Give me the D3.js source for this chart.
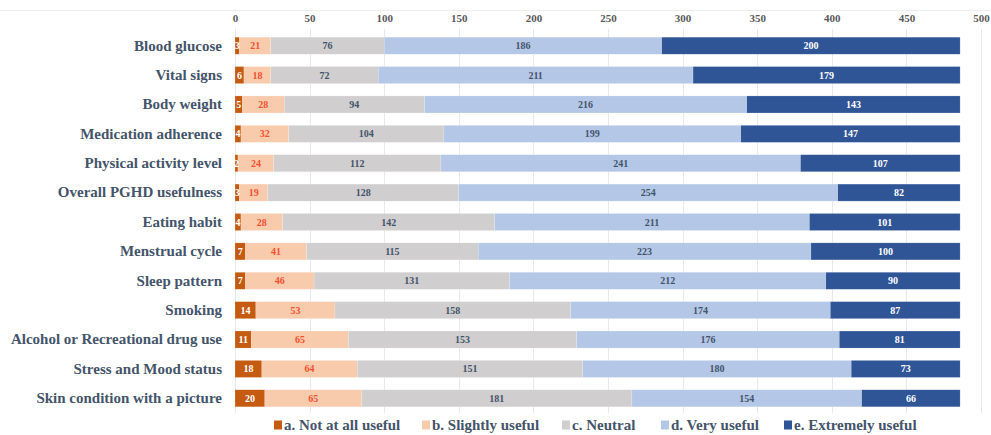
<!DOCTYPE html>
<html>
<head>
<meta charset="utf-8">
<script src="https://cdn.jsdelivr.net/npm/d3@7"></script>
<style>
  html, body { margin: 0; padding: 0; background: #fff; }
  svg { display: block; }
  text { font-family: "Liberation Serif", "Times New Roman", serif; font-weight: bold; }
</style>
</head>
<body>
<svg id="chart" width="991" height="435"></svg>
<script>
// PGHD data types and how useful respondents rated them
const categories = [
  "Blood glucose", "Vital signs", "Body weight", "Medication adherence",
  "Physical activity level", "Overall PGHD usefulness", "Eating habit",
  "Menstrual cycle", "Sleep pattern", "Smoking",
  "Alcohol or Recreational drug use", "Stress and Mood status",
  "Skin condition with a picture"
];
const seriesNames = [
  "a. Not at all useful", "b. Slightly useful", "c. Neutral",
  "d. Very useful", "e. Extremely useful"
];
const notAtAll   = [3, 6, 5, 4, 2, 3, 4, 7, 7, 14, 11, 18, 20];
const slightly   = [21, 18, 28, 32, 24, 19, 28, 41, 46, 53, 65, 64, 65];
const neutral    = [76, 72, 94, 104, 112, 128, 142, 115, 131, 158, 153, 151, 181];
const very       = [186, 211, 216, 199, 241, 254, 211, 223, 212, 174, 176, 180, 154];
const extremely  = [200, 179, 143, 147, 107, 82, 101, 100, 90, 87, 81, 73, 66];
const xTicks = [0, 50, 100, 150, 200, 250, 300, 350, 400, 450, 500];

const fills = ["#C55A11", "#F8CBAD", "#D0CECE", "#B4C7E7", "#2F5597"];
const labelColors = ["#FFFFFF", "#F4502F", "#44546A", "#44546A", "#FFFFFF"];

const keys = ["a", "b", "c", "d", "e"];
const rows = categories.map((c, i) => ({
  category: c,
  a: notAtAll[i], b: slightly[i], c: neutral[i], d: very[i], e: extremely[i]
}));
const stacked = d3.stack().keys(keys)(rows);

const svg = d3.select("#chart");
const width = 991;

const x = d3.scaleLinear().domain([0, 500]).range([235, 981]);
const y = d3.scaleBand().domain(categories).range([31, 413]).paddingInner(0.42).paddingOuter(0.21);

// faint frame line along the top
svg.append("line")
  .attr("x1", 0).attr("x2", width).attr("y1", 10.5).attr("y2", 10.5)
  .attr("stroke", "#EDEDED").attr("stroke-width", 1);

// vertical gridlines
svg.append("g").selectAll("line").data(xTicks).join("line")
  .attr("x1", d => Math.round(x(d)) + 0.5).attr("x2", d => Math.round(x(d)) + 0.5)
  .attr("y1", 29).attr("y2", 413)
  .attr("stroke", "#E8E8EE").attr("stroke-width", 1);

// top axis tick labels
const axis = svg.append("g").attr("transform", "translate(0,22)")
  .call(d3.axisTop(x).tickValues(xTicks).tickSize(0).tickPadding(0));
axis.select(".domain").remove();
axis.selectAll("text")
  .attr("fill", "#595959").attr("font-size", 11)
  .style("font-family", "'Liberation Serif', serif").style("font-weight", "bold");

// category labels
const yAxis = svg.append("g").attr("transform", "translate(222,0)")
  .call(d3.axisLeft(y).tickSize(0).tickPadding(0));
yAxis.select(".domain").remove();
yAxis.selectAll("text")
  .attr("fill", "#44546A").attr("font-size", 15)
  .style("font-family", "'Liberation Serif', serif").style("font-weight", "bold");

// stacked bars
const layer = svg.append("g").selectAll("g").data(stacked).join("g")
  .attr("fill", (d, i) => fills[i]);

layer.selectAll("rect").data(d => d).join("rect")
  .attr("x", d => x(d[0]))
  .attr("width", d => x(d[1]) - x(d[0]))
  .attr("y", d => y(d.data.category))
  .attr("height", y.bandwidth())
  .attr("stroke", "rgba(255,255,255,0.35)")
  .attr("stroke-width", 0.5);

// value labels inside each segment
svg.append("g").selectAll("g").data(stacked).join("g")
  .attr("fill", (d, i) => labelColors[i])
  .selectAll("text").data(d => d).join("text")
  .attr("x", d => (x(d[0]) + x(d[1])) / 2)
  .attr("y", d => y(d.data.category) + y.bandwidth() / 2)
  .attr("dy", "0.35em")
  .attr("text-anchor", "middle")
  .attr("font-size", 10)
  .text(d => d[1] - d[0]);

// legend
const legendX = [274, 422, 562, 661, 784];
const legend = svg.append("g").selectAll("g").data(seriesNames).join("g")
  .attr("transform", (d, i) => `translate(${legendX[i]},425)`);
legend.append("rect")
  .attr("x", 0).attr("y", -4.5).attr("width", 8).attr("height", 9)
  .attr("fill", (d, i) => fills[i]);
legend.append("text")
  .attr("x", 10).attr("dy", "0.35em")
  .attr("fill", "#44546A").attr("font-size", 15)
  .text(d => d);
</script>
</body>
</html>
